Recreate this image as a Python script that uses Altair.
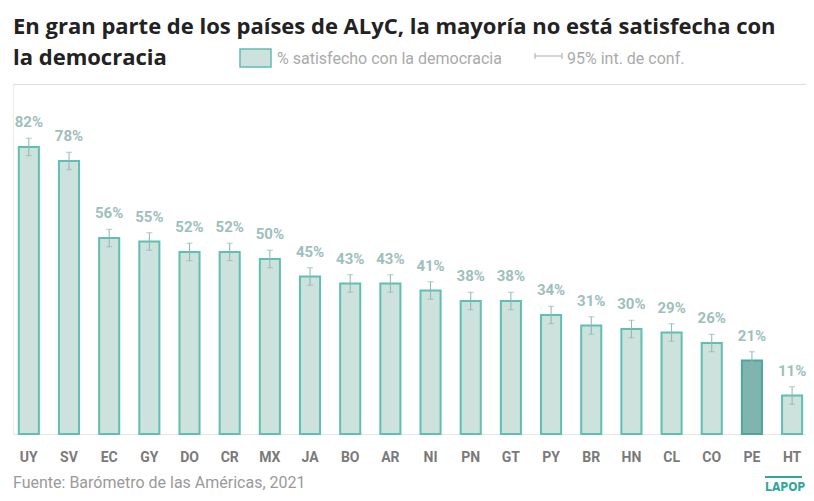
import altair as alt
import pandas as pd

countries = ["UY", "SV", "EC", "GY", "DO", "CR", "MX", "JA", "BO", "AR",
             "NI", "PN", "GT", "PY", "BR", "HN", "CL", "CO", "PE", "HT"]
values = [82, 78, 56, 55, 52, 52, 50, 45, 43, 43, 41, 38, 38, 34, 31, 30, 29, 26, 21, 11]
ci_low = [79.5, 75.5, 53.5, 52.5, 49.5, 49.5, 47.5, 42.5, 40.5, 40.5,
          38.5, 35.5, 35.5, 31.5, 28.5, 27.5, 26.5, 23.5, 18.5, 8.5]
ci_high = [84.5, 80.5, 58.5, 57.5, 54.5, 54.5, 52.5, 47.5, 45.5, 45.5,
           43.5, 40.5, 40.5, 36.5, 33.5, 32.5, 31.5, 28.5, 23.5, 13.5]
highlight = "PE"

title_lines = ["En gran parte de los países de ALyC, la mayoría no está satisfecha con",
               "la democracia"]
legend_bar_label = "% satisfecho con la democracia"
legend_ci_label = "95% int. de conf."
source_text = "Fuente: Barómetro de las Américas, 2021"
logo_text = "LAPOP"

LIGHT_FILL = "#cde1dd"
LIGHT_STROKE = "#5fbfb3"
DARK_FILL = "#7fb4af"
DARK_STROKE = "#4ea69c"

df = pd.DataFrame({
    "pais": countries,
    "valor": values,
    "lo": ci_low,
    "hi": ci_high,
})
df["grupo"] = ["destacado" if c == highlight else "normal" for c in countries]
df["etiqueta"] = [f"{v}%" for v in values]

x_enc = alt.X(
    "pais:N", sort=countries,
    scale=alt.Scale(paddingInner=0.5, paddingOuter=0.12, align=0.6),
    axis=alt.Axis(title=None, labelAngle=0, labelFont="Roboto", labelFontSize=14,
                  labelFontWeight="bold", labelColor="#7a7a7a", labelPadding=16,
                  ticks=False, domainColor="#e8e8e8", domainWidth=1),
)
y_scale = alt.Scale(domain=[0, 100], nice=False)
y_axis = alt.Axis(title=None, labels=False, ticks=False, grid=False,
                  domainColor="#ececec", domainWidth=1)

base = alt.Chart(df)

bars = base.mark_bar(strokeWidth=2).encode(
    x=x_enc,
    y=alt.Y("valor:Q", scale=y_scale, axis=y_axis),
    fill=alt.Fill("grupo:N", scale=alt.Scale(domain=["normal", "destacado"],
                                             range=[LIGHT_FILL, DARK_FILL]), legend=None),
    stroke=alt.Stroke("grupo:N", scale=alt.Scale(domain=["normal", "destacado"],
                                                 range=[LIGHT_STROKE, DARK_STROKE]), legend=None),
)

err = base.mark_rule(color="#8ab7b2", strokeWidth=1).encode(
    x=x_enc, y=alt.Y("lo:Q", scale=y_scale), y2="hi:Q")
cap_lo = base.mark_tick(color="#8ab7b2", size=6, thickness=1).encode(
    x=x_enc, y=alt.Y("lo:Q", scale=y_scale))
cap_hi = base.mark_tick(color="#8ab7b2", size=6, thickness=1).encode(
    x=x_enc, y=alt.Y("hi:Q", scale=y_scale))

labels = base.mark_text(dy=-20, baseline="alphabetic", font="Roboto", fontSize=15,
                        fontWeight="bold", color="#9dc0bc").encode(
    x=x_enc, y=alt.Y("valor:Q", scale=y_scale), text="etiqueta:N")

one = alt.Data(values=[{}])

def txt(s, xv, yv, **kw):
    return alt.Chart(one).mark_text(align="left", baseline="alphabetic", **kw).encode(
        x=alt.value(xv), y=alt.value(yv), text=alt.value(s))

title1 = txt(title_lines[0], 0, -50, font="Open Sans", fontSize=22, fontWeight="bold", color="#222222")
title2 = txt(title_lines[1], 0, -19, font="Open Sans", fontSize=22, fontWeight="bold", color="#222222")

swatch = alt.Chart(one).mark_rect(fill=LIGHT_FILL, stroke=LIGHT_STROKE, strokeWidth=1.5).encode(
    x=alt.value(227), x2=alt.value(258), y=alt.value(-35), y2=alt.value(-17))
leg1 = txt(legend_bar_label, 264, -20, font="Roboto", fontSize=16, color="#aaaaaa")

ci_line = alt.Chart(one).mark_rule(color="#aaaaaa", strokeWidth=1).encode(
    x=alt.value(522), x2=alt.value(549), y=alt.value(-28))
ci_capl = alt.Chart(one).mark_rule(color="#aaaaaa", strokeWidth=1).encode(
    x=alt.value(522), y=alt.value(-31), y2=alt.value(-25))
ci_capr = alt.Chart(one).mark_rule(color="#aaaaaa", strokeWidth=1).encode(
    x=alt.value(549), y=alt.value(-31), y2=alt.value(-25))
leg2 = txt(legend_ci_label, 554, -20, font="Roboto", fontSize=16, color="#aaaaaa")

footer = txt(source_text, 0, 404, font="Roboto", fontSize=16, color="#9a9a9a")
logo_bar = alt.Chart(one).mark_rule(color="#2fa79c", strokeWidth=2).encode(
    x=alt.value(752), x2=alt.value(789), y=alt.value(393))
logo = txt(logo_text, 752, 407, font="DejaVu Sans Condensed, Roboto Condensed, Roboto",
           fontSize=12, fontWeight="bold", color="#2fa79c")

chart = alt.layer(
    bars, err, cap_lo, cap_hi, labels,
    title1, title2, swatch, leg1, ci_line, ci_capl, ci_capr, leg2,
    footer, logo_bar, logo,
).properties(
    width=793, height=350,
    autosize=alt.AutoSizeParams(type="none"),
    padding={"left": 5, "top": 76, "right": 0, "bottom": 59},
).configure_view(stroke=None).configure(background="white")

chart.save("out.html", embed_options={"renderer": "svg", "actions": False})
